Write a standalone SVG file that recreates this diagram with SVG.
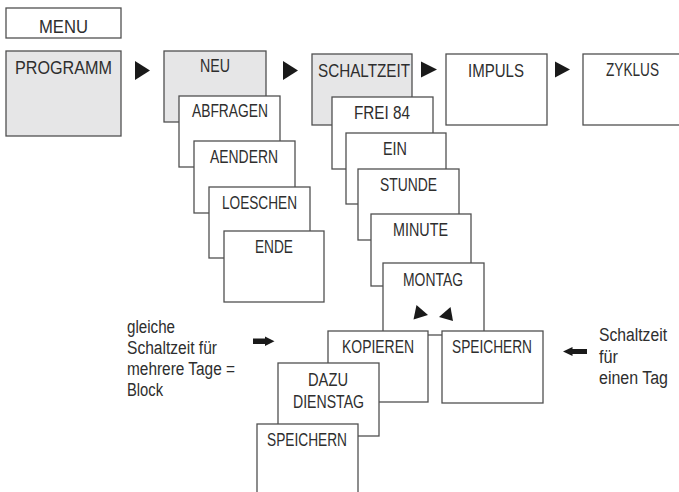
<svg xmlns="http://www.w3.org/2000/svg" xmlns:xlink="http://www.w3.org/1999/xlink" width="679" height="492" viewBox="0 0 679 492">
<style>
  .box{fill:#ffffff;stroke:#505050;stroke-width:1.3}
  .gray{fill:#e6e6e7}
  .lbl{font-family:"Liberation Sans",Arial,sans-serif;font-size:18px;fill:#2e2e2e;text-anchor:middle}
  .note{font-family:"Liberation Sans",Arial,sans-serif;font-size:18px;fill:#2e2e2e}
  .arr{fill:#1a1a1a}
</style>
<rect width="679" height="492" fill="#ffffff"/>

<g id="menu"><rect class="box" x="6" y="8" width="115" height="30"/><text class="lbl" x="63.5" y="32.5" textLength="49" lengthAdjust="spacingAndGlyphs">MENU</text></g>
<g id="programm"><rect class="box gray" x="6" y="51" width="115" height="85"/><text class="lbl" x="63.5" y="74" textLength="97" lengthAdjust="spacingAndGlyphs">PROGRAMM</text></g>

<g id="neu"><rect class="box gray" x="164" y="51" width="102" height="71"/><text class="lbl" x="215" y="72" textLength="30" lengthAdjust="spacingAndGlyphs">NEU</text></g>
<g id="abfragen"><rect class="box" x="179" y="96" width="101" height="71"/><text class="lbl" x="230" y="117" textLength="76" lengthAdjust="spacingAndGlyphs">ABFRAGEN</text></g>
<g id="aendern"><rect class="box" x="194" y="141" width="101" height="72"/><text class="lbl" x="244" y="163" textLength="68" lengthAdjust="spacingAndGlyphs">AENDERN</text></g>
<g id="loeschen"><rect class="box" x="209" y="187" width="101" height="71"/><text class="lbl" x="259.5" y="209" textLength="75" lengthAdjust="spacingAndGlyphs">LOESCHEN</text></g>
<g id="ende"><rect class="box" x="224" y="231" width="100" height="71"/><text class="lbl" x="274" y="253" textLength="38" lengthAdjust="spacingAndGlyphs">ENDE</text></g>

<g id="schaltzeit"><rect class="box gray" x="312" y="54" width="100" height="71"/><text class="lbl" x="364" y="77" textLength="92" lengthAdjust="spacingAndGlyphs">SCHALTZEIT</text></g>
<g id="impuls"><rect class="box" x="446" y="54" width="101" height="71"/><text class="lbl" x="496" y="77" textLength="56" lengthAdjust="spacingAndGlyphs">IMPULS</text></g>
<g id="zyklus"><rect class="box" x="583" y="54" width="110" height="71"/><text class="lbl" x="632.5" y="75.5" textLength="53" lengthAdjust="spacingAndGlyphs">ZYKLUS</text></g>

<g id="frei84"><rect class="box" x="332" y="97" width="101" height="72"/><text class="lbl" x="382" y="119" textLength="56" lengthAdjust="spacingAndGlyphs">FREI 84</text></g>
<g id="ein"><rect class="box" x="346" y="133" width="100" height="71"/><text class="lbl" x="395" y="155" textLength="24" lengthAdjust="spacingAndGlyphs">EIN</text></g>
<g id="stunde"><rect class="box" x="358" y="169" width="101" height="71"/><text class="lbl" x="408.5" y="191" textLength="57" lengthAdjust="spacingAndGlyphs">STUNDE</text></g>
<g id="minute"><rect class="box" x="371" y="214" width="100" height="72"/><text class="lbl" x="420.5" y="236" textLength="55" lengthAdjust="spacingAndGlyphs">MINUTE</text></g>
<g id="montag"><rect class="box" x="383" y="263" width="101" height="72"/><text class="lbl" x="433" y="286" textLength="60" lengthAdjust="spacingAndGlyphs">MONTAG</text></g>

<g id="kopieren"><rect class="box" x="328" y="331" width="100" height="71"/><text class="lbl" x="378" y="353" textLength="72" lengthAdjust="spacingAndGlyphs">KOPIEREN</text></g>
<g id="speichern-tag"><rect class="box" x="442" y="331" width="101" height="72"/><text class="lbl" x="492" y="353" textLength="80" lengthAdjust="spacingAndGlyphs">SPEICHERN</text></g>
<g id="dazu-dienstag"><rect class="box" x="278" y="363" width="101" height="73"/><text class="lbl" x="328" y="386" textLength="40" lengthAdjust="spacingAndGlyphs">DAZU</text><text class="lbl" x="328.5" y="408" textLength="71" lengthAdjust="spacingAndGlyphs">DIENSTAG</text></g>
<g id="speichern-block"><rect class="box" x="257" y="424" width="101" height="80"/><text class="lbl" x="307" y="446" textLength="80" lengthAdjust="spacingAndGlyphs">SPEICHERN</text></g>

<g id="note-block"><text class="note"><tspan x="127" y="333" textLength="48" lengthAdjust="spacingAndGlyphs">gleiche</tspan><tspan x="127" y="354" textLength="90" lengthAdjust="spacingAndGlyphs">Schaltzeit für</tspan><tspan x="127" y="375" textLength="108" lengthAdjust="spacingAndGlyphs">mehrere Tage =</tspan><tspan x="127" y="396" textLength="36" lengthAdjust="spacingAndGlyphs">Block</tspan></text></g>
<g id="note-tag"><text class="note"><tspan x="599" y="341" textLength="68" lengthAdjust="spacingAndGlyphs">Schaltzeit</tspan><tspan x="599" y="362.5" textLength="19" lengthAdjust="spacingAndGlyphs">für</tspan><tspan x="599" y="384" textLength="69" lengthAdjust="spacingAndGlyphs">einen Tag</tspan></text></g>

<g id="connectors" class="arr">
  <path d="M135,61 L150,70.5 L135,80 Z"/>
  <path d="M283,61 L298,70.5 L283,80 Z"/>
  <path d="M421,61.5 L437,69.5 L421,77.5 Z"/>
  <path d="M555,61.5 L570,69.5 L555,77.5 Z"/>
  <path d="M416.5,305 L428,315 L413.5,319.5 Z"/>
  <path d="M450.5,307 L453,321 L439,317 Z"/>
  <path d="M253,338.5 L265,338.5 L265,336.5 L274.5,341.2 L265,346 L265,344 L253,344 Z"/>
  <path d="M587,349 L572.5,349 L572.5,347 L563,351.5 L572.5,356 L572.5,354 L587,354 Z"/>
</g>
</svg>
